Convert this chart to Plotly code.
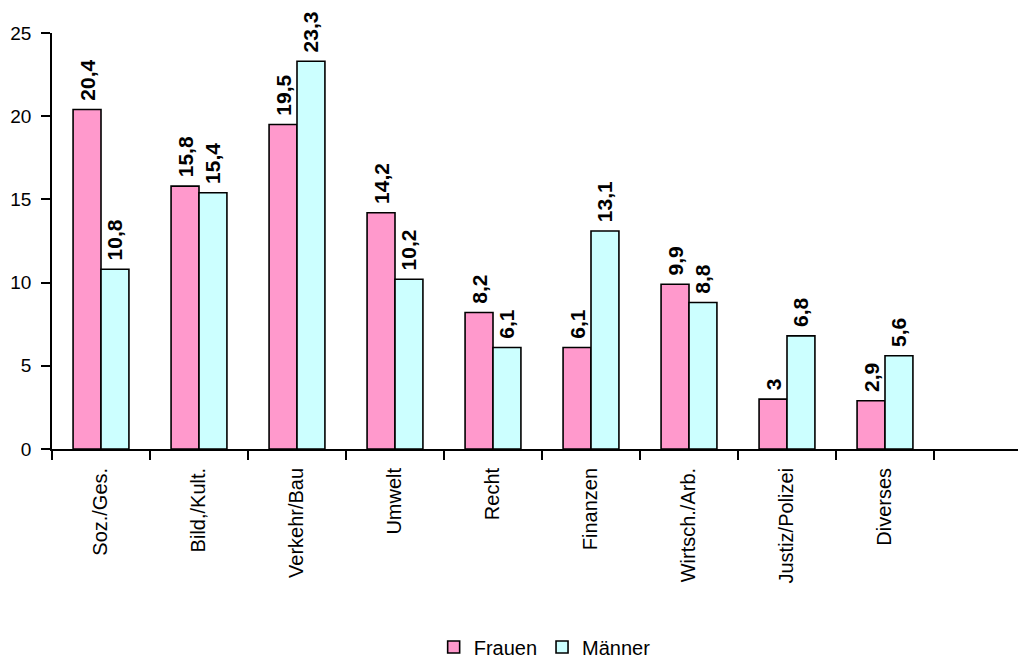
import plotly.graph_objects as go

categories = ["Soz./Ges.", "Bild,/Kult.", "Verkehr/Bau", "Umwelt", "Recht",
              "Finanzen", "Wirtsch./Arb.", "Justiz/Polizei", "Diverses"]
frauen = [20.4, 15.8, 19.5, 14.2, 8.2, 6.1, 9.9, 3, 2.9]
maenner = [10.8, 15.4, 23.3, 10.2, 6.1, 13.1, 8.8, 6.8, 5.6]
y_ticks = [0, 5, 10, 15, 20, 25]

FONT = "Liberation Sans, Arial, sans-serif"

def fmt(v):
    s = ("%g" % v)
    # leading no-break space adds a small gap between bar top and label
    return "\u00a0" + s.replace(".", ",")

xs = list(range(len(categories)))

fig = go.Figure()
for name, vals, col in [("Frauen", frauen, "#FF99CC"), ("Männer", maenner, "#CCFFFF")]:
    fig.add_trace(go.Bar(
        x=xs, y=vals, name=name,
        marker=dict(color=col, line=dict(color="black", width=1.6)),
        text=[fmt(v) for v in vals], textposition="outside", textangle=-90,
        constraintext="none",
        textfont=dict(family=FONT, size=21, color="black", weight="bold"),
        cliponaxis=False,
    ))

plot_w = 1023 - 52 - 5
fig.update_layout(
    width=1023, height=660,
    margin=dict(l=52, r=5, t=33, b=211, autoexpand=False),
    plot_bgcolor="white", paper_bgcolor="white",
    barmode="group", bargap=0.43, bargroupgap=0,
    font=dict(family=FONT, size=19, color="black"),
    showlegend=True,
    legend=dict(orientation="h", x=0.51, xanchor="center", y=-0.476, yanchor="middle",
                font=dict(family=FONT, size=20, color="black"),
                itemwidth=30, tracegroupgap=0),
    xaxis=dict(
        range=[-0.5, -0.5 + plot_w / 98.0],
        tickmode="array", tickvals=xs, ticktext=categories,
        tickangle=-90, ticks="", showgrid=False, zeroline=False,
        ticklabelstandoff=9, automargin=False,
        showline=True, linecolor="black", linewidth=1.8,
        tickfont=dict(family=FONT, size=20, color="black"),
        minor=dict(tick0=0.5, dtick=1, ticks="outside", ticklen=9,
                   tickcolor="black", tickwidth=1.8, showgrid=False),
    ),
    yaxis=dict(
        range=[0, 25], tickvals=y_ticks, ticks="outside", ticklen=9,
        tickcolor="black", tickwidth=1.8,
        showgrid=False, zeroline=False, automargin=False,
        showline=True, linecolor="black", linewidth=1.8,
        ticklabelstandoff=6,
        tickfont=dict(family=FONT, size=19, color="black"),
    ),
)

fig.write_html("out.html")
